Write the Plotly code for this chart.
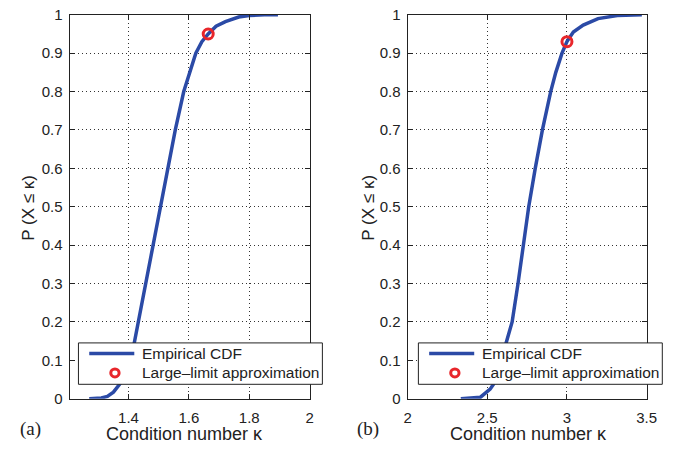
import plotly.graph_objects as go

# Panel (a) empirical CDF
a_kappa = [1.27, 1.31, 1.33, 1.35, 1.373, 1.393, 1.408, 1.42, 1.432, 1.457, 1.483, 1.507,
           1.531, 1.555, 1.583, 1.603, 1.623, 1.643, 1.664, 1.69, 1.721, 1.765, 1.80, 1.85, 1.895]
a_prob = [0.0, 0.002, 0.006, 0.017, 0.04, 0.07, 0.1, 0.15, 0.2, 0.3, 0.4, 0.5,
          0.6, 0.7, 0.8, 0.85, 0.9, 0.93, 0.95, 0.97, 0.982, 0.994, 0.998, 1.0, 1.0]
a_approx_x = [1.664]
a_approx_y = [0.95]

# Panel (b) empirical CDF
b_kappa = [2.334, 2.40, 2.457, 2.518, 2.539, 2.58, 2.621, 2.656, 2.693, 2.727, 2.760,
           2.801, 2.846, 2.898, 2.93, 2.969, 3.0, 3.04, 3.102, 3.195, 3.316, 3.47]
b_prob = [0.0, 0.001, 0.004, 0.025, 0.0375, 0.09, 0.146, 0.2, 0.3, 0.4, 0.5,
          0.6, 0.7, 0.8, 0.85, 0.9, 0.93, 0.955, 0.973, 0.99, 0.998, 1.0]
b_approx_x = [3.0]
b_approx_y = [0.93]

a_xticks = [1.4, 1.6, 1.8, 2]
a_xtick_text = ["1.4", "1.6", "1.8", "2"]
b_xticks = [2, 2.5, 3, 3.5]
b_xtick_text = ["2", "2.5", "3", "3.5"]
yticks = [0, 0.1, 0.2, 0.3, 0.4, 0.5, 0.6, 0.7, 0.8, 0.9, 1]
ytick_text = ["0", "0.1", "0.2", "0.3", "0.4", "0.5", "0.6", "0.7", "0.8", "0.9", "1"]

legend_labels = ["Empirical CDF", "Large\u2013limit approximation"]
x_title = "Condition number \u03ba"
y_title = "P (X \u2264 \u03ba)"
panel_labels = ["(a)", "(b)"]

BLUE = "#2b4aa6"
RED = "#e8262b"
TXT = "#222222"
FONT = "Liberation Sans"
W, H = 687, 451


def px(x):
    return x / W


def py(y):
    return 1 - y / H


fig = go.Figure()
fig.add_trace(go.Scatter(x=a_kappa, y=a_prob, mode="lines", name=legend_labels[0],
                         line=dict(color=BLUE, width=3.5), xaxis="x", yaxis="y"))
fig.add_trace(go.Scatter(x=a_approx_x, y=a_approx_y, mode="markers", name=legend_labels[1],
                         marker=dict(symbol="circle-open", size=10, color=RED, line=dict(width=3)),
                         xaxis="x", yaxis="y"))
fig.add_trace(go.Scatter(x=b_kappa, y=b_prob, mode="lines", name=legend_labels[0],
                         line=dict(color=BLUE, width=3.5), xaxis="x2", yaxis="y2"))
fig.add_trace(go.Scatter(x=b_approx_x, y=b_approx_y, mode="markers", name=legend_labels[1],
                         marker=dict(symbol="circle-open", size=10, color=RED, line=dict(width=3)),
                         xaxis="x2", yaxis="y2"))

ydom = [py(405), py(6)]

axis_common = dict(showline=True, linecolor="#222", linewidth=1, mirror="ticks",
                   ticks="inside", ticklen=5, tickcolor="#222",
                   showgrid=True, gridcolor="#333", griddash="1px,3px", gridwidth=1,
                   zeroline=False, ticklabeloverflow="allow",
                   tickfont=dict(family=FONT, size=15, color=TXT))

fig.update_layout(
    width=W, height=H, margin=dict(l=0, r=0, t=0, b=0),
    paper_bgcolor="white", plot_bgcolor="white", showlegend=False,
    xaxis=dict(domain=[px(67), px(312)], range=[1.205, 2], tickvals=a_xticks,
               ticktext=a_xtick_text, anchor="y", ticklabelstandoff=5, **axis_common),
    yaxis=dict(domain=ydom, range=[0, 1], tickvals=yticks, ticktext=ytick_text,
               anchor="x", ticklabelstandoff=3, **axis_common),
    xaxis2=dict(domain=[px(412), px(656)], range=[2, 3.5], tickvals=b_xticks,
                ticktext=b_xtick_text, anchor="y2", ticklabelstandoff=5, **axis_common),
    yaxis2=dict(domain=ydom, range=[0, 1], tickvals=yticks, ticktext=ytick_text,
                anchor="x2", ticklabelstandoff=3, **axis_common),
)

shapes = []
annotations = []
title_centers = [184, 535]
for i, off in enumerate([0, 347]):
    # legend box
    shapes.append(dict(type="rect", xref="paper", yref="paper",
                       x0=px(76 + off), x1=px(325 + off), y0=py(390), y1=py(347),
                       fillcolor="white", line=dict(color="#222", width=1), layer="above"))
    # legend swatches
    shapes.append(dict(type="line", xref="paper", yref="paper",
                       x0=px(87 + off), x1=px(133 + off), y0=py(358), y1=py(358),
                       line=dict(color=BLUE, width=3.5), layer="above"))
    shapes.append(dict(type="circle", xref="paper", yref="paper",
                       x0=px(109 + off), x1=px(117.5 + off), y0=py(382.3), y1=py(374),
                       line=dict(color=RED, width=3), layer="above"))
    for j, yy in enumerate([358, 378]):
        annotations.append(dict(text=legend_labels[j], x=px(139 + off), y=py(yy),
                                xref="paper", yref="paper", showarrow=False,
                                font=dict(family=FONT, size=15.5, color=TXT),
                                xanchor="left", yanchor="middle"))
    # axis titles
    annotations.append(dict(text=x_title, x=px(title_centers[i]), y=py(442), xref="paper", yref="paper",
                            showarrow=False, font=dict(family=FONT, size=18, color=TXT),
                            xanchor="center", yanchor="middle"))
    annotations.append(dict(text=y_title, x=px(25 + off), y=py(206), xref="paper", yref="paper",
                            showarrow=False, font=dict(family=FONT, size=17, color=TXT),
                            textangle=-90, xanchor="center", yanchor="middle"))
    annotations.append(dict(text=panel_labels[i], x=px(27 + off - (2 if i else 0)), y=py(436),
                            xref="paper", yref="paper", showarrow=False,
                            font=dict(family="Liberation Serif", size=19, color=TXT),
                            xanchor="center", yanchor="middle"))

fig.update_layout(shapes=shapes, annotations=annotations)

fig.write_html("out.html")
